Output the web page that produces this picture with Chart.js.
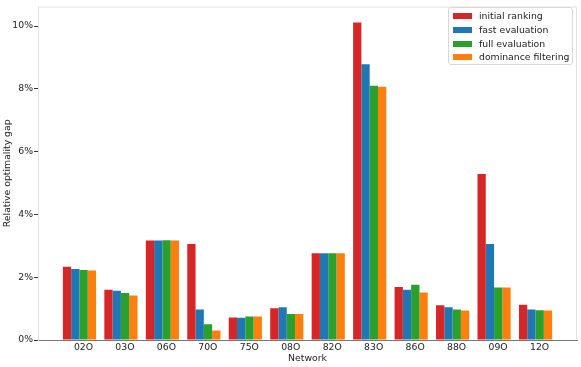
<!DOCTYPE html>
<html>
<head>
<meta charset="utf-8">
<script src="https://cdn.jsdelivr.net/npm/chart.js@4/dist/chart.umd.min.js"></script>
<style>
  body { margin: 0; background: #fff; }
  #wrap { position: relative; width: 581px; height: 367px; }
  #legend {
    position: absolute; left: 448px; top: 7px; width: 123px; height: 56px;
    border: 1px solid #d8d8d8; border-radius: 3px; background: rgba(255,255,255,0.8);
    font-family: "DejaVu Sans", sans-serif; font-size: 9.3px; color: #222;
  }
  #legend .row { position: absolute; left: 0; height: 14px; line-height: 14px; white-space: nowrap; }
  #legend .sw { position: absolute; left: 4px; top: 4px; width: 19px; height: 6px; }
  #legend .tx { position: absolute; left: 30px; top: 0; }
</style>
</head>
<body>
<div id="wrap">
  <canvas id="c" width="581" height="367"></canvas>
  <div id="legend"></div>
</div>
<script>
// networks along the x axis
var networks = ['02O', '03O', '06O', '70O', '75O', '08O', '82O', '83O', '86O', '88O', '09O', '12O'];

// relative optimality gap in %
var initialRanking     = [2.33, 1.60, 3.17, 3.06, 0.72, 1.01, 2.76, 10.11, 1.69, 1.11, 5.29, 1.12];
var fastEvaluation     = [2.26, 1.57, 3.17, 0.97, 0.71, 1.04, 2.76, 8.78, 1.60, 1.04, 3.06, 0.97];
var fullEvaluation     = [2.23, 1.50, 3.18, 0.50, 0.75, 0.83, 2.76, 8.10, 1.76, 0.97, 1.67, 0.95];
var dominanceFiltering = [2.21, 1.42, 3.17, 0.30, 0.75, 0.83, 2.76, 8.07, 1.51, 0.94, 1.67, 0.94];

var seriesNames = ['initial ranking', 'fast evaluation', 'full evaluation', 'dominance filtering'];
var seriesColors = ['#d62728', '#1f77b4', '#2ca02c', '#ff7f0e'];
var yTicks = [0, 2, 4, 6, 8, 10];

var font = { family: 'DejaVu Sans', size: 9.3 };

// pad with one empty slot each side, like the matplotlib x range
var labels = [''].concat(networks, ['']);
function pad(arr) { return [null].concat(arr, [null]); }

var allSeries = [initialRanking, fastEvaluation, fullEvaluation, dominanceFiltering];
var datasets = allSeries.map(function(s, i) {
   return {
      label: seriesNames[i],
      data: pad(s),
      backgroundColor: seriesColors[i],
      borderWidth: 0,
      categoryPercentage: 0.8,
      barPercentage: 1.0
   };
});

// top and right frame lines
var frame = {
   id: 'frame',
   afterDraw: function(chart) {
      var a = chart.chartArea, ctx = chart.ctx;
      ctx.save();
      ctx.strokeStyle = '#e3e3e3';
      ctx.lineWidth = 1;
      ctx.beginPath();
      ctx.moveTo(a.left, a.top + 0.5);
      ctx.lineTo(a.right - 0.5, a.top + 0.5);
      ctx.lineTo(a.right - 0.5, a.bottom);
      ctx.stroke();
      ctx.restore();
   }
};

new Chart(document.getElementById('c'), {
   type: 'bar',
   data: { labels: labels, datasets: datasets },
   plugins: [frame],
   options: {
      responsive: false,
      animation: false,
      layout: { padding: { left: 0, top: 3, right: 4, bottom: 0 } },
      plugins: { legend: { display: false }, tooltip: { enabled: false } },
      scales: {
         x: {
            offset: false,
            grid: { display: false, drawTicks: false },
            border: { display: true, color: '#777', width: 1 },
            ticks: { font: font, color: '#222', padding: 2, labelOffset: 4, maxRotation: 0, autoSkip: false },
            title: { display: true, text: 'Network', font: font, color: '#222', padding: { top: 0, bottom: 3 } },
            afterFit: function(s) { s.height = 27; }
         },
         y: {
            min: 0,
            max: 10.62,
            grid: { drawOnChartArea: false, drawTicks: true, tickLength: 4, color: '#333' },
            border: { display: true, color: '#e3e3e3', width: 1 },
            ticks: { font: font, color: '#222', padding: 1, callback: function(v) { return v + '%'; } },
            afterBuildTicks: function(s) { s.ticks = yTicks.map(function(v) { return { value: v }; }); },
            title: { display: true, text: 'Relative optimality gap', font: font, color: '#222', padding: { top: 2, bottom: 0 } },
            afterFit: function(s) { s.width = 38; }
         }
      }
   }
});

// legend box drawn as html, top right inside the plot
var legend = document.getElementById('legend');
var rowTops = [1, 15, 29, 42];
seriesNames.forEach(function(name, i) {
   var row = document.createElement('div');
   row.className = 'row';
   row.style.top = rowTops[i] + 'px';
   row.innerHTML = '<span class="sw" style="background:' + seriesColors[i] + '"></span><span class="tx">' + name + '</span>';
   legend.appendChild(row);
});
</script>
</body>
</html>
